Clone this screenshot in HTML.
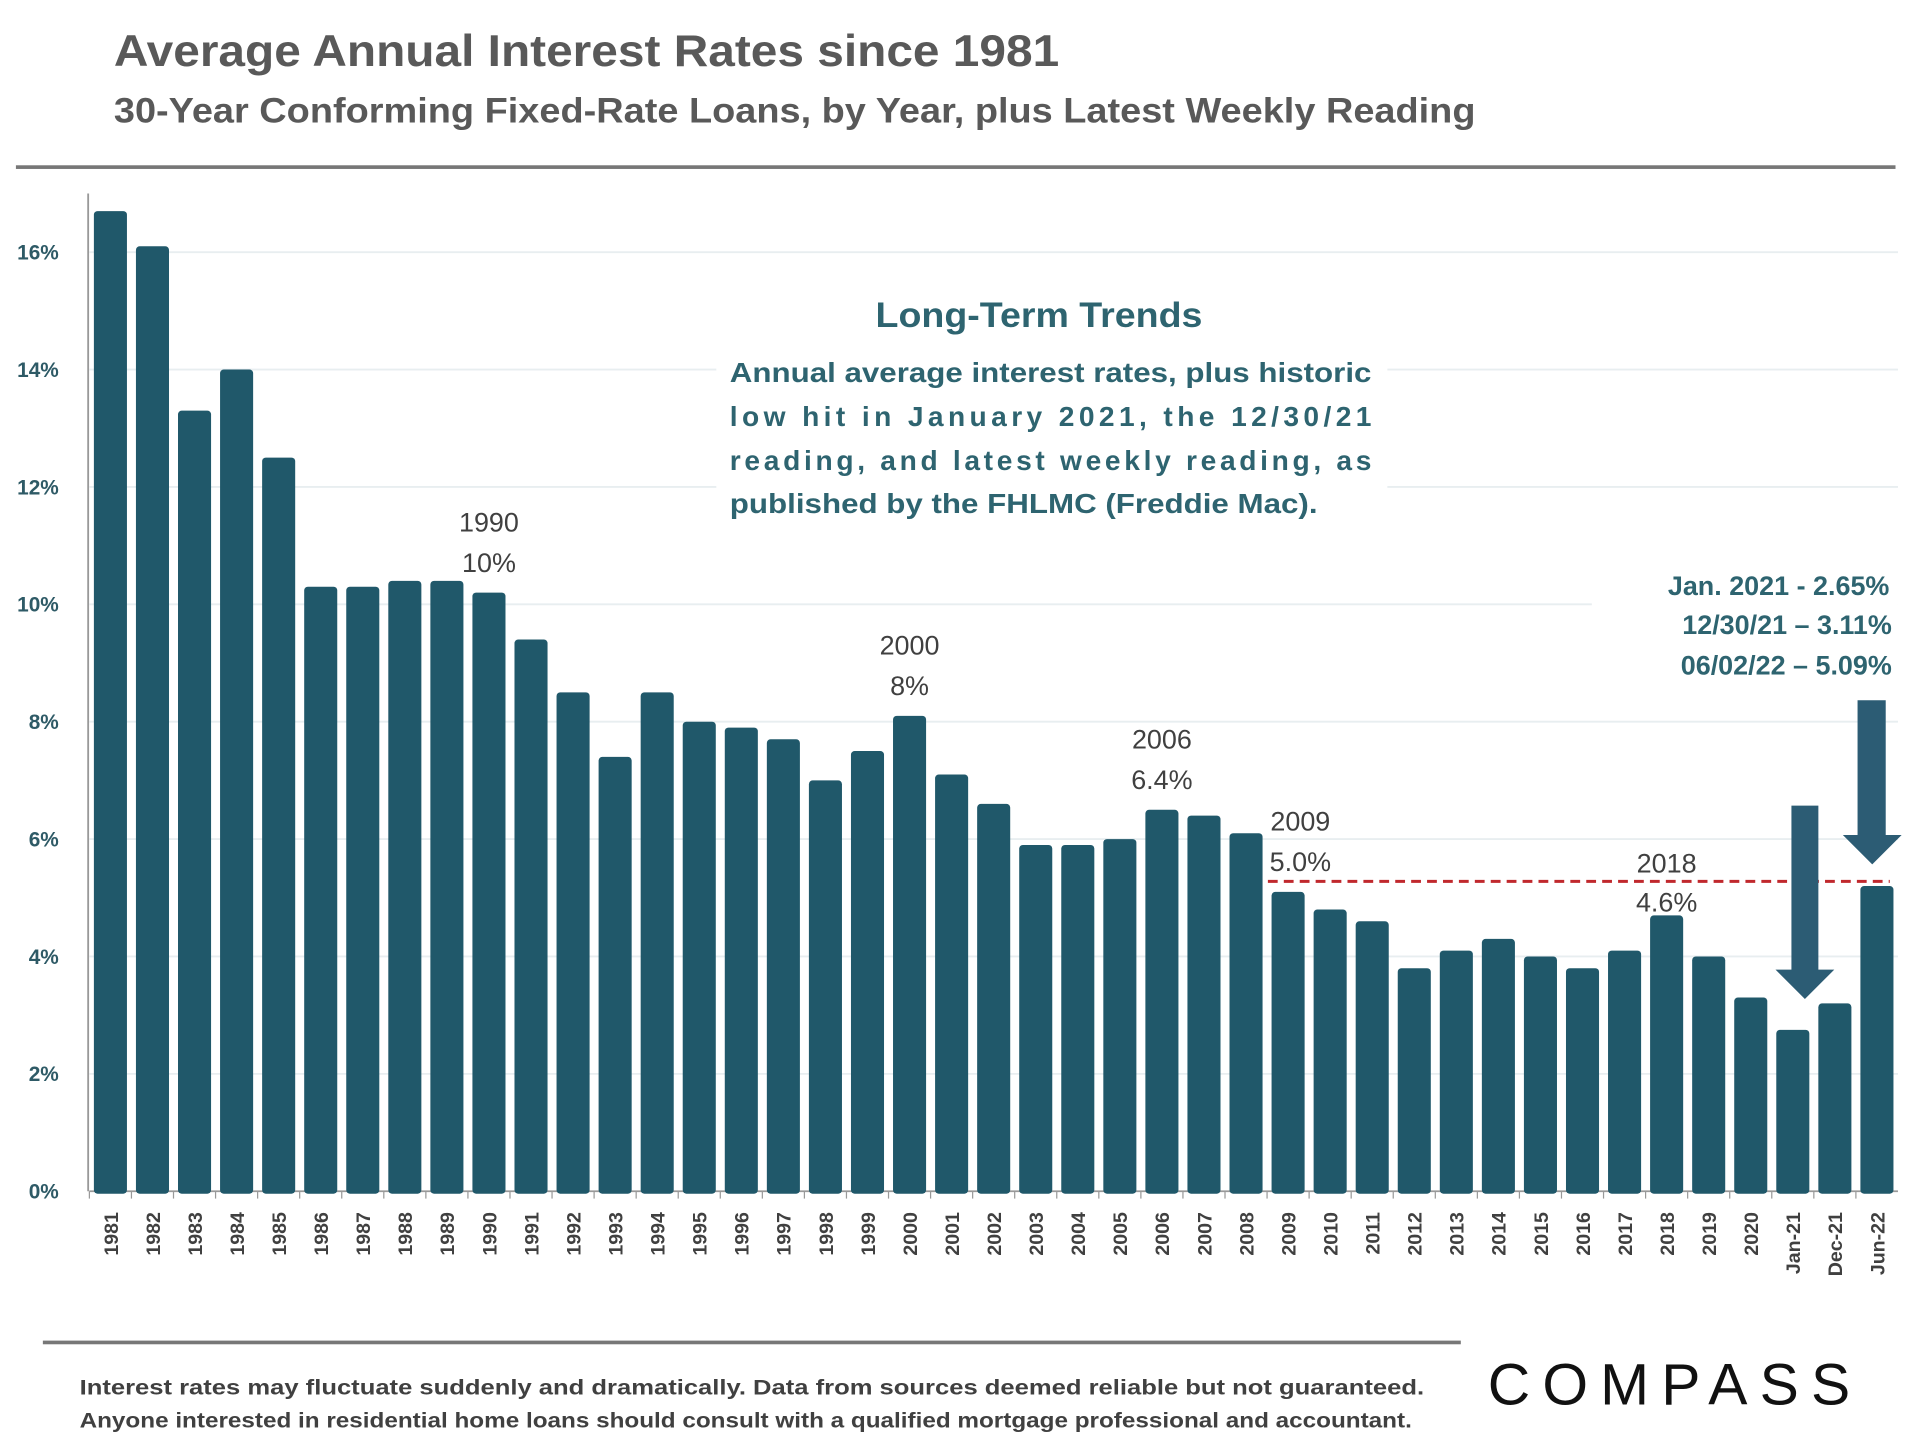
<!DOCTYPE html>
<html><head><meta charset="utf-8"><style>
html,body{margin:0;padding:0;background:#fff;}
svg{display:block;}
text{font-family:"Liberation Sans",sans-serif;}
</style></head><body>
<svg id="chart" width="1920" height="1441" viewBox="0 0 1568 1177" preserveAspectRatio="none" xmlns="http://www.w3.org/2000/svg">
<text x="93" y="54" font-size="36" font-weight="bold" fill="#595959" textLength="772" lengthAdjust="spacingAndGlyphs">Average Annual Interest Rates since 1981</text>
<text x="93" y="100" font-size="29" font-weight="bold" fill="#595959" textLength="1112" lengthAdjust="spacingAndGlyphs">30-Year Conforming Fixed-Rate Loans, by Year, plus Latest Weekly Reading</text>
<rect x="13" y="135" width="1535" height="3" fill="#777"/>
<g id="grid"></g>
<g id="bars"></g>
<g id="yticks"></g>
<g id="xticks"></g>
<g>
<rect x="585" y="228" width="548" height="200" fill="#fff"/>
<text x="715" y="267" font-size="29" font-weight="bold" fill="#2e6470" textLength="267" lengthAdjust="spacingAndGlyphs">Long-Term Trends</text>
<g font-size="23" font-weight="bold" fill="#2e6470">
<text x="596" y="312" textLength="524" lengthAdjust="spacingAndGlyphs">Annual average interest rates, plus historic</text>
<text x="596" y="348" textLength="524">low hit in January 2021, the 12/30/21</text>
<text x="596" y="384" textLength="524">reading, and latest weekly reading, as</text>
<text x="596" y="419" textLength="480" lengthAdjust="spacingAndGlyphs">published by the FHLMC (Freddie Mac).</text>
</g></g>
<rect x="1300" y="455" width="250" height="105" fill="#fff"/>
<g font-size="22" font-weight="bold" fill="#2e6470" text-anchor="end">
<text x="1543" y="486">Jan. 2021 - 2.65%</text>
<text x="1545" y="518">12/30/21 – 3.11%</text>
<text x="1545" y="551">06/02/22 – 5.09%</text>
</g>
<g id="annot" font-size="22" fill="#404040" text-anchor="middle"></g>
<line id="refline" stroke="#c0282d" stroke-width="2.5" stroke-dasharray="8,5"/>
<g fill="#2c5c74">
<polygon points="1463,658 1485,658 1485,792 1498,792 1474,816 1450,792 1463,792"/>
<polygon points="1517,572 1540,572 1540,682 1553,682 1529,706 1505,682 1517,682"/>
</g>
<rect x="35" y="1095" width="1158" height="3" fill="#777"/>
<g font-size="17" font-weight="bold" fill="#404040">
<text x="65" y="1139" textLength="1098" lengthAdjust="spacingAndGlyphs">Interest rates may fluctuate suddenly and dramatically. Data from sources deemed reliable but not guaranteed.</text>
<text x="65" y="1166" textLength="1088" lengthAdjust="spacingAndGlyphs">Anyone interested in residential home loans should consult with a qualified mortgage professional and accountant.</text>
</g>
<text x="1215" y="1147" font-size="48" fill="#111" letter-spacing="4" textLength="300">COMPASS</text>
</svg>
<script>
const categories=["1981","1982","1983","1984","1985","1986","1987","1988","1989","1990","1991","1992","1993","1994","1995","1996","1997","1998","1999","2000","2001","2002","2003","2004","2005","2006","2007","2008","2009","2010","2011","2012","2013","2014","2015","2016","2017","2018","2019","2020","Jan-21","Dec-21","Jun-22"];
const rates=[16.7,16.1,13.3,14.0,12.5,10.3,10.3,10.4,10.4,10.2,9.4,8.5,7.4,8.5,8.0,7.9,7.7,7.0,7.5,8.1,7.1,6.6,5.9,5.9,6.0,6.5,6.4,6.1,5.1,4.8,4.6,3.8,4.1,4.3,4.0,3.8,4.1,4.7,4.0,3.3,2.75,3.2,5.2];
const yTicks=[0,2,4,6,8,10,12,14,16];
const yTickLabels=["0%","2%","4%","6%","8%","10%","12%","14%","16%"];
const refValue=5.28;
const refStart="2009";
const annotations=[["1990","1990","10%"],["2000","2000","8%"],["2006","2006","6.4%"],["2009","2009","5.0%"],["2018","2018","4.6%"]];
const NS="http://www.w3.org/2000/svg";
const x0=73,x1=1550,y0=973,pxPer=47.94;
const step=(x1-x0)/categories.length;
function xc(i){return x0+step*(i+0.5);}
function y(v){return y0-v*pxPer;}
function mk(tag,attrs,parent){const e=document.createElementNS(NS,tag);for(const k in attrs)e.setAttribute(k,attrs[k]);parent.appendChild(e);return e;}
const grid=document.getElementById('grid'),bars=document.getElementById('bars'),yt=document.getElementById('yticks'),xt=document.getElementById('xticks'),an=document.getElementById('annot');
yTicks.forEach((t,i)=>{
 if(t>0){const g=mk('line',{x1:x0,x2:x1,y1:y(t),y2:y(t),stroke:'#e8eef0','stroke-width':1.5},grid);
 
 }
 const l=mk('text',{x:48,y:y(t)+6,'text-anchor':'end','font-size':17,'font-weight':'bold',fill:'#2e5a66'},yt);
 
 
 l.textContent=yTickLabels[i];
});
mk('line',{x1:x0-1,x2:x0-1,y1:158,y2:y0,stroke:'#999','stroke-width':1.5},grid);
mk('line',{x1:x0,x2:x1,y1:y0,y2:y0,stroke:'#999','stroke-width':1.5},grid);
const bw=27;
rates.forEach((v,i)=>{
 const r=mk('rect',{x:xc(i)-bw/2,y:y(v),width:bw,height:v*pxPer+2,rx:3,fill:'#20586a'},bars);
 
 
 mk('line',{x1:x0+step*i,x2:x0+step*i,y1:y0,y2:y0+6,stroke:'#999'},xt);
 const tx=xc(i)+6,ty=990;
 const l=mk('text',{x:tx,y:ty,'text-anchor':'end','font-size':16,'font-weight':'bold',fill:'#404040',transform:'rotate(-90 '+tx+' '+ty+')'},xt);
 
 
 l.textContent=categories[i];
});
annotations.forEach(a=>{
 const i=categories.indexOf(a[0]);const v=rates[i];
 let cx=xc(i),o1=-50,o2=-17;
 if(a[0]==='2009')cx+=10;
 if(a[0]==='2018'){o1=-35;o2=-3;}
 const t1=mk('text',{x:cx,y:y(v)+o1,'text-anchor':'middle'},an);
 
 
 t1.textContent=a[1];
 const t2=mk('text',{x:cx,y:y(v)+o2,'text-anchor':'middle'},an);
 
 
 t2.textContent=a[2];
});
const rl=document.getElementById('refline');
const si=categories.indexOf(refStart);
rl.setAttribute('x1',xc(si)-bw/2-3);rl.setAttribute('x2',xc(categories.length-1)+bw/2-3);
rl.setAttribute('y1',y(refValue));rl.setAttribute('y2',y(refValue));
</script>
</body></html>
